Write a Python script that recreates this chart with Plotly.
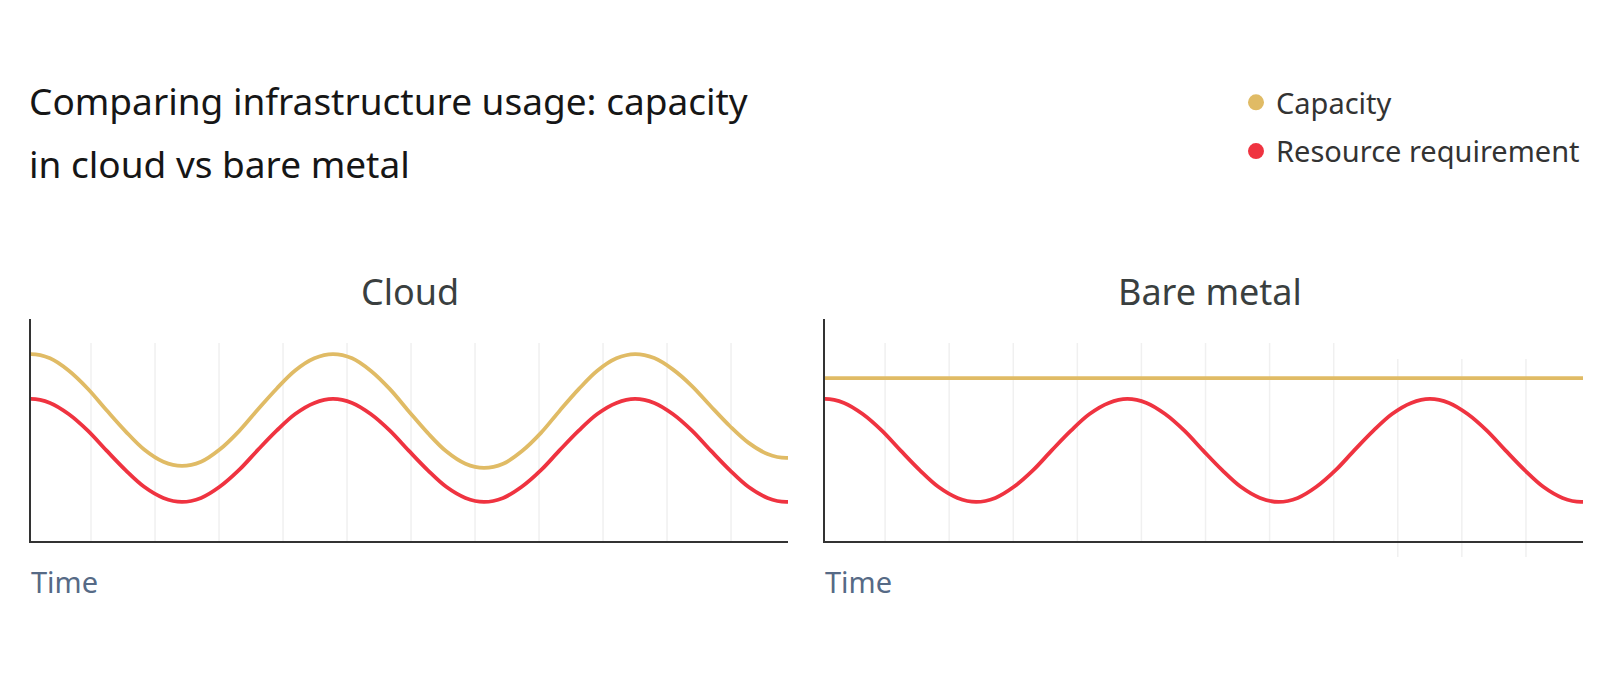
import plotly.graph_objects as go

# time samples (grid units), every 1/16 of a cycle;
# the first and last sample sit just outside the axis so the curve runs
# smoothly into both edges
time = [-0.24, 0.06, 0.36, 0.65, 0.95, 1.24, 1.54, 1.83, 2.13, 2.42, 2.72, 3.01,
        3.31, 3.60, 3.90, 4.19, 4.49, 4.78, 5.08, 5.37, 5.67, 5.96,
        6.26, 6.55, 6.85, 7.14, 7.44, 7.73, 8.03, 8.32, 8.62, 8.91,
        9.21, 9.50, 9.80, 10.09, 10.39, 10.68, 10.98, 11.27, 11.57, 11.86, 12.16]

# resource requirement (same in both panels)
requirement = [62.2, 64.0, 62.2, 57.2, 49.7, 40.8, 31.9, 24.4, 19.4, 17.6, 19.4, 24.4,
               31.9, 40.8, 49.7, 57.2, 62.2, 64.0, 62.2, 57.2, 49.7, 40.8,
               31.9, 24.4, 19.4, 17.6, 19.4, 24.4, 31.9, 40.8, 49.7, 57.2,
               62.2, 64.0, 62.2, 57.2, 49.7, 40.8, 31.9, 24.4, 19.4, 17.6, 19.4]

# cloud capacity follows demand
cloud_capacity = [82.3, 84.2, 82.3, 76.8, 68.6, 59.0, 49.4, 41.2, 35.7, 33.8, 35.7, 41.2,
                  49.4, 59.0, 68.6, 76.8, 82.3, 84.2, 82.3, 76.7, 68.4, 58.6,
                  48.7, 40.4, 34.8, 32.9, 34.8, 40.4, 48.7, 58.6, 68.4, 76.7,
                  82.3, 84.2, 82.4, 77.3, 69.8, 60.8, 51.8, 44.3, 39.2, 37.4, 39.2]

# bare metal capacity is flat
metal_time = [0.0, 11.95]
metal_capacity = [73.4, 73.4]

grid_ticks = [1, 2, 3, 4, 5, 6, 7, 8, 9, 10, 11]

CAPACITY = "#E0BB65"
REQUIREMENT = "#EF3340"
AXIS = "#333333"
FONT = "Noto Sans"

W, H = 1616, 680


def px_x(p):
    return p / W


def px_y(p):
    return 1 - p / H


fig = go.Figure()

# cloud panel
fig.add_trace(go.Scatter(x=time, y=cloud_capacity, mode="lines", line_shape="spline",
                         line=dict(color=CAPACITY, width=3.8), showlegend=False,
                         xaxis="x", yaxis="y", hoverinfo="skip"))
fig.add_trace(go.Scatter(x=time, y=requirement, mode="lines", line_shape="spline",
                         line=dict(color=REQUIREMENT, width=3.8), showlegend=False,
                         xaxis="x", yaxis="y", hoverinfo="skip"))

# bare metal panel
fig.add_trace(go.Scatter(x=metal_time, y=metal_capacity, mode="lines",
                         line=dict(color=CAPACITY, width=3.8), showlegend=False,
                         xaxis="x2", yaxis="y2", hoverinfo="skip"))
fig.add_trace(go.Scatter(x=time, y=requirement, mode="lines", line_shape="spline",
                         line=dict(color=REQUIREMENT, width=3.8), showlegend=False,
                         xaxis="x2", yaxis="y2", hoverinfo="skip"))

# legend entries (dots only)
fig.add_trace(go.Scatter(x=[None], y=[None], mode="markers", name="Capacity",
                         marker=dict(color=CAPACITY, size=18), legendgroup="a"))
fig.add_trace(go.Scatter(x=[None], y=[None], mode="markers", name="Resource requirement",
                         marker=dict(color=REQUIREMENT, size=18), legendgroup="b"))

# light vertical gridlines, they stop short of the top
shapes = []
for i, t in enumerate(grid_ticks):
    shapes.append(dict(type="line", xref="x", yref="y domain", x0=t, x1=t, y0=0, y1=0.892,
                       line=dict(color="#F0F0F0", width=1.5), layer="below"))
    if i < 8:
        y0, y1 = 0, 0.892
    else:
        y0, y1 = -0.072, 0.82
    shapes.append(dict(type="line", xref="x2", yref="y2 domain", x0=t, x1=t, y0=y0, y1=y1,
                       line=dict(color="#F0F0F0", width=1.5), layer="below"))

axis_common = dict(showgrid=False, zeroline=False, showticklabels=False, ticks="",
                   showline=True, linecolor=AXIS, linewidth=2, fixedrange=True)
xr = [0.0625, 11.89]
yr = [0, 100]
ydom = [px_y(541), px_y(319)]

annotations = [
    dict(text="Comparing infrastructure usage: capacity", x=px_x(27), y=px_y(100),
         xanchor="left", yanchor="middle", font=dict(size=37, color="#161616")),
    dict(text="in cloud vs bare metal", x=px_x(27), y=px_y(163),
         xanchor="left", yanchor="middle", font=dict(size=37, color="#161616")),
    dict(text="Cloud", x=px_x(410.5), y=px_y(291), xanchor="center", yanchor="middle",
         font=dict(size=36, color="#3a3f3f")),
    dict(text="Bare metal", x=px_x(1210), y=px_y(291), xanchor="center", yanchor="middle",
         font=dict(size=36, color="#3a3f3f")),
    dict(text="Time", x=px_x(29), y=px_y(581), xanchor="left", yanchor="middle",
         font=dict(size=29, color="#566a86")),
    dict(text="Time", x=px_x(823), y=px_y(581), xanchor="left", yanchor="middle",
         font=dict(size=29, color="#566a86")),
]
for a in annotations:
    a.update(xref="paper", yref="paper", showarrow=False)

fig.update_layout(
    width=W, height=H,
    margin=dict(l=0, r=0, t=0, b=0),
    paper_bgcolor="white", plot_bgcolor="white",
    font=dict(family=FONT, color="#333333"),
    xaxis=dict(domain=[px_x(31), px_x(788)], range=xr, anchor="y", **axis_common),
    yaxis=dict(domain=ydom, range=yr, anchor="x", **axis_common),
    xaxis2=dict(domain=[px_x(825), px_x(1583)], range=xr, anchor="y2", **axis_common),
    yaxis2=dict(domain=ydom, range=yr, anchor="x2", **axis_common),
    shapes=shapes,
    annotations=annotations,
    showlegend=True,
    legend=dict(x=px_x(1236), y=px_y(77), xanchor="left", yanchor="top",
                font=dict(size=29, color="#333333"), tracegroupgap=8,
                bgcolor="rgba(0,0,0,0)", itemclick=False, itemdoubleclick=False),
    hovermode=False,
)

# the page's default body margin would shift the chart by 8px
fig.write_html("out.html", config={"displayModeBar": False},
               post_script="document.body.style.margin='0';")
